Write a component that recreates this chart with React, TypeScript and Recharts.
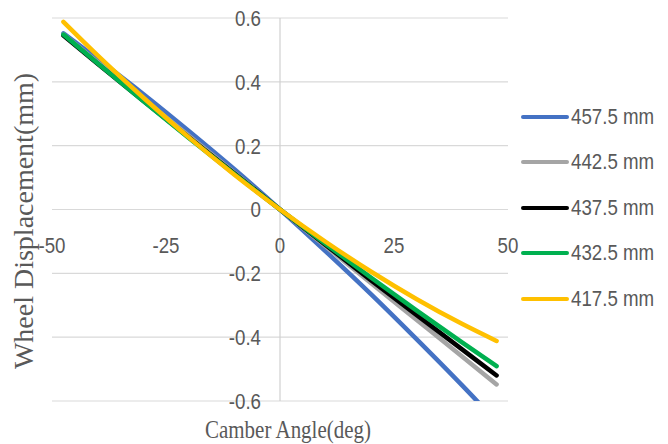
import React from 'react';
import { LineChart, Line, XAxis, YAxis, CartesianGrid, ReferenceLine } from 'recharts';

const camberAngles = [-47.5, -40, -30, -20, -10, 0, 10, 20, 30, 40, 47.5];
const disp4575 = [0.552, 0.472, 0.362, 0.246, 0.126, 0, -0.131, -0.266, -0.407, -0.552, -0.665];
const disp4425 = [0.548, 0.461, 0.346, 0.231, 0.115, 0, -0.115, -0.231, -0.346, -0.461, -0.548];
const disp4375 = [0.545, 0.457, 0.341, 0.226, 0.113, 0, -0.111, -0.222, -0.331, -0.439, -0.52];
const disp4325 = [0.548, 0.458, 0.34, 0.224, 0.111, 0, -0.108, -0.214, -0.317, -0.417, -0.491];
const disp4175 = [0.588, 0.483, 0.351, 0.226, 0.109, 0, -0.101, -0.195, -0.281, -0.359, -0.412];

const xTicks = [-50, -25, 0, 25, 50];
const yTicks = [-0.6, -0.4, -0.2, 0, 0.2, 0.4, 0.6];

const SERIES = [
  { key: 's4575', name: '457.5 mm', color: '#4472C4', values: disp4575 },
  { key: 's4425', name: '442.5 mm', color: '#A5A5A5', values: disp4425 },
  { key: 's4375', name: '437.5 mm', color: '#000000', values: disp4375 },
  { key: 's4325', name: '432.5 mm', color: '#00B050', values: disp4325 },
  { key: 's4175', name: '417.5 mm', color: '#FFC000', values: disp4175 },
];

const data = camberAngles.map((x, i) => {
  const row: any = { x };
  SERIES.forEach((s) => (row[s.key] = s.values[i]));
  return row;
});

const W = 668;
const H = 444;
const Y_AXIS_W = 52;
const X_AXIS_H = 43;
const MARGIN = { top: 18, right: 160, bottom: 0, left: 0 };
const plotW = W - Y_AXIS_W - MARGIN.right;
const plotH = H - MARGIN.top - X_AXIS_H;
// axes cross at the origin, so tick labels sit beside x=0 / y=0
const zeroX = Y_AXIS_W + plotW * 0.5;
const zeroY = MARGIN.top + plotH * 0.5;

// no narrow font installed, so squeeze the sans glyphs a bit
const NARROW = 0.85;
const TICK_FONT = "'Liberation Sans Narrow', 'Liberation Sans', sans-serif";
const LABEL_FONT = "'Liberation Serif', 'DejaVu Serif', serif";

const renderXTick = ({ x, payload }: any) => (
  <text
    key={payload.value}
    transform={`translate(${x}, ${zeroY + 43}) scale(${NARROW}, 1)`}
    textAnchor="middle"
    fontSize={22}
    fontFamily={TICK_FONT}
    fill="#595959"
  >
    {payload.value}
  </text>
);

const renderYTick = ({ y, payload }: any) => (
  <text
    key={payload.value}
    transform={`translate(${zeroX - 19}, ${y}) scale(${NARROW}, 1)`}
    dy="0.36em"
    textAnchor="end"
    fontSize={22}
    fontFamily={TICK_FONT}
    fill="#595959"
  >
    {payload.value}
  </text>
);

const renderYTitle = () => (
  <text
    transform="translate(33, 221) rotate(-90)"
    textAnchor="middle"
    fontSize={28}
    fontFamily={LABEL_FONT}
    fill="#595959"
  >
    Wheel Displacement(mm)
  </text>
);

const renderXTitle = () => (
  <text
    transform="translate(288, 438) scale(0.84, 1)"
    textAnchor="middle"
    fontSize={25}
    fontFamily={LABEL_FONT}
    fill="#595959"
  >
    Camber Angle(deg)
  </text>
);

export default function App() {
  return (
    <div style={{ position: 'relative', width: W, height: H, background: '#fff' }}>
      <style>{'body{margin:0}'}</style>
      <LineChart width={W} height={H} data={data} margin={MARGIN}>
        <CartesianGrid vertical={false} stroke="#d9d9d9" strokeWidth={1.2} />
        <XAxis
          dataKey="x"
          type="number"
          domain={[-50, 50]}
          ticks={xTicks}
          axisLine={false}
          tickLine={false}
          height={X_AXIS_H}
          tick={renderXTick}
          label={renderXTitle}
        />
        <YAxis
          type="number"
          domain={[-0.6, 0.6]}
          ticks={yTicks}
          allowDataOverflow
          axisLine={false}
          tickLine={false}
          width={Y_AXIS_W}
          tick={renderYTick}
          label={renderYTitle}
        />
        <ReferenceLine x={0} stroke="#d0d0d0" strokeWidth={1.2} />
        {SERIES.map((s) => (
          <Line
            key={s.key}
            dataKey={s.key}
            name={s.name}
            type="monotone"
            stroke={s.color}
            strokeWidth={4.5}
            strokeLinecap="round"
            dot={false}
            activeDot={false}
            isAnimationActive={false}
          />
        ))}
      </LineChart>
      <div style={{ position: 'absolute', left: 521, top: 94 }}>
        {SERIES.map((s) => (
          <div key={s.key} style={{ display: 'flex', alignItems: 'center', height: 45.5, whiteSpace: 'nowrap' }}>
            <svg width={48} height={8}>
              <line x1={2} y1={4} x2={46} y2={4} stroke={s.color} strokeWidth={4} strokeLinecap="round" />
            </svg>
            <span
              style={{
                display: 'inline-block',
                fontFamily: TICK_FONT,
                fontSize: 22,
                color: '#595959',
                marginLeft: 2,
                transform: `scaleX(${NARROW})`,
                transformOrigin: 'left center',
              }}
            >
              {s.name}
            </span>
          </div>
        ))}
      </div>
    </div>
  );
}
